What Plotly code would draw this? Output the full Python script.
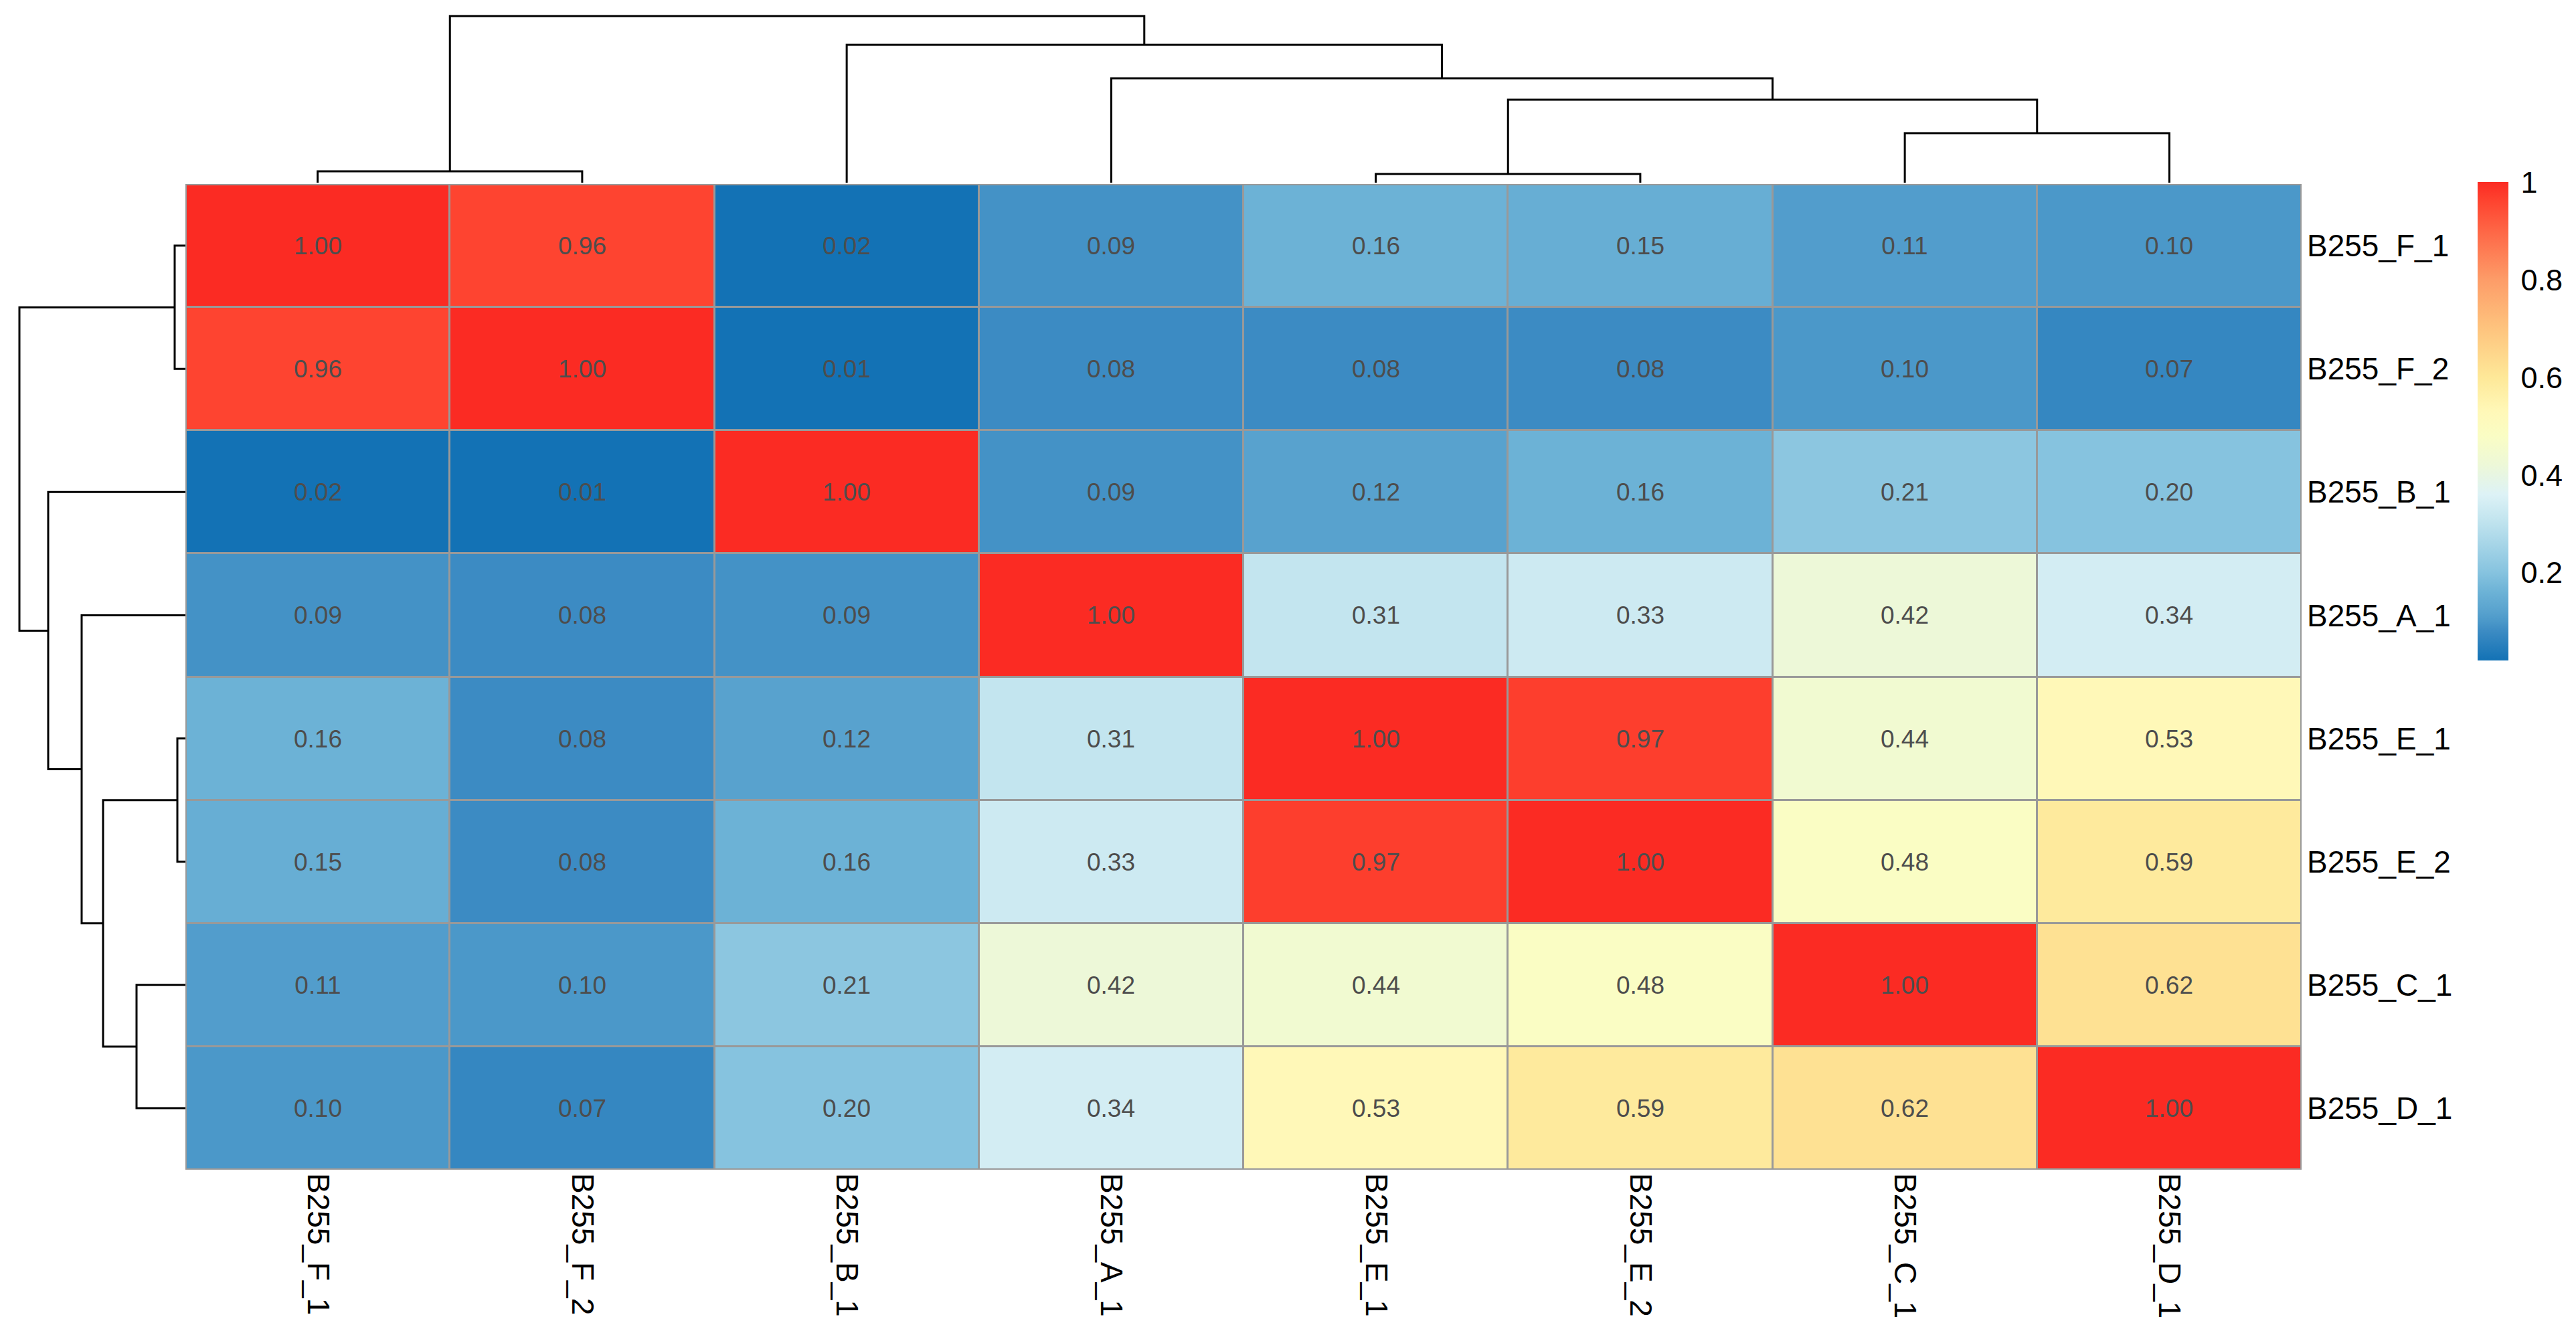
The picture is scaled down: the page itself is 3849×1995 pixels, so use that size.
import plotly.graph_objects as go

# ---------------- data ----------------
labels = ["B255_F_1", "B255_F_2", "B255_B_1", "B255_A_1",
          "B255_E_1", "B255_E_2", "B255_C_1", "B255_D_1"]

row_F_1 = [1.00, 0.96, 0.02, 0.09, 0.16, 0.15, 0.11, 0.10]
row_F_2 = [0.96, 1.00, 0.01, 0.08, 0.08, 0.08, 0.10, 0.07]
row_B_1 = [0.02, 0.01, 1.00, 0.09, 0.12, 0.16, 0.21, 0.20]
row_A_1 = [0.09, 0.08, 0.09, 1.00, 0.31, 0.33, 0.42, 0.34]
row_E_1 = [0.16, 0.08, 0.12, 0.31, 1.00, 0.97, 0.44, 0.53]
row_E_2 = [0.15, 0.08, 0.16, 0.33, 0.97, 1.00, 0.48, 0.59]
row_C_1 = [0.11, 0.10, 0.21, 0.42, 0.44, 0.48, 1.00, 0.62]
row_D_1 = [0.10, 0.07, 0.20, 0.34, 0.53, 0.59, 0.62, 1.00]

# linkage (leaf indices 0..7 in display order, new clusters 8..14)
merge_left = [0, 4, 6, 9, 3, 2, 8]
merge_right = [1, 5, 7, 10, 11, 12, 13]
merge_height = [0.17, 0.13, 0.74, 1.24, 1.56, 2.06, 2.49]

cbar_ticks = [0.2, 0.4, 0.6, 0.8, 1.0]
cbar_ticktext = ["0.2", "0.4", "0.6", "0.8", "1"]

z = [row_F_1, row_F_2, row_B_1, row_A_1, row_E_1, row_E_2, row_C_1, row_D_1]
n = len(labels)

# ---------------- geometry ----------------
OFF = 8  # default page body margin
W, H = 3849 - OFF, 1995 - OFF
hm_l, hm_r, hm_t, hm_b = 277, 3439, 275, 1748
FONT = "Liberation Sans, Arial, sans-serif"
ZMIN, ZMAX = 0.02, 1.0


def px_x(p):
    return (p - OFF) / W


def px_y(p):
    return 1 - (p - OFF) / H


# colour scale (value -> colour), normalised to ZMIN..ZMAX
stops = [
    (0.02, "#1372B5"), (0.08, "#3C8BC3"), (0.10, "#4B98C9"), (0.12, "#58A2CE"),
    (0.16, "#6CB2D6"), (0.20, "#86C3DF"), (0.31, "#C3E5EF"), (0.36, "#DDF2F6"),
    (0.42, "#EDF8D8"), (0.48, "#FAFDC4"), (0.53, "#FFF8B8"), (0.60, "#FEE898"),
    (0.70, "#FEC47E"), (0.80, "#FD9C68"), (0.90, "#FE6646"), (0.96, "#FE4430"),
    (1.00, "#FB2B23"),
]
colorscale = [[(v - ZMIN) / (ZMAX - ZMIN), c] for v, c in stops]


def dendro_segments(left, right, height, nleaves):
    pos = {i: float(i) for i in range(nleaves)}
    hgt = {i: 0.0 for i in range(nleaves)}
    a, b = [], []  # a = leaf-axis coords, b = height coords
    for k, (l, r, h) in enumerate(zip(left, right, height)):
        a += [pos[l], pos[l], pos[r], pos[r], None]
        b += [hgt[l], h, h, hgt[r], None]
        cid = nleaves + k
        pos[cid] = (pos[l] + pos[r]) / 2
        hgt[cid] = h
    return a, b


da, db = dendro_segments(merge_left, merge_right, merge_height, n)
HR = 2.6  # dendrogram height range

fig = go.Figure()

fig.add_trace(go.Heatmap(
    z=z, x=list(range(n)), y=list(range(n)),
    zmin=ZMIN, zmax=ZMAX, colorscale=colorscale,
    xgap=3, ygap=3,
    texttemplate="%{z:.2f}",
    textfont=dict(family=FONT, size=37, color="#4D4D4D"),
    hoverinfo="skip",
    colorbar=dict(
        x=px_x(3702), xanchor="left", y=px_y(629.5), yanchor="middle",
        len=715, lenmode="pixels", thickness=46, thicknessmode="pixels",
        outlinewidth=0, xpad=0, ypad=0,
        tickvals=cbar_ticks, ticktext=cbar_ticktext,
        ticks="outside", ticklen=10, tickcolor="rgba(0,0,0,0)",
        tickfont=dict(family=FONT, size=45, color="#000000"),
    ),
    xaxis="x", yaxis="y",
))

# column dendrogram (top)
fig.add_trace(go.Scatter(
    x=da, y=db, mode="lines", line=dict(color="#000000", width=3),
    hoverinfo="skip", showlegend=False, xaxis="x2", yaxis="y2",
))
# row dendrogram (left)
fig.add_trace(go.Scatter(
    x=db, y=da, mode="lines", line=dict(color="#000000", width=3),
    hoverinfo="skip", showlegend=False, xaxis="x3", yaxis="y3",
))

hm_x_dom = [px_x(hm_l), px_x(hm_r)]
hm_y_dom = [px_y(hm_b), px_y(hm_t)]
tree_px = 249 / 2.49 * HR  # pixels spanned by the height range

fig.update_layout(
    width=W, height=H,
    margin=dict(l=0, r=0, t=0, b=0),
    paper_bgcolor="white", plot_bgcolor="white",
    showlegend=False,
    xaxis=dict(domain=hm_x_dom, range=[-0.5, n - 0.5], tickvals=list(range(n)),
               ticktext=labels, tickangle=90, ticks="", showgrid=False,
               zeroline=False, showline=False, ticklabelstandoff=4,
               tickfont=dict(family=FONT, size=46, color="#000000")),
    yaxis=dict(domain=hm_y_dom, range=[n - 0.5, -0.5], tickvals=list(range(n)),
               ticktext=labels, side="right", ticks="", showgrid=False,
               zeroline=False, showline=False, ticklabelstandoff=7,
               tickfont=dict(family=FONT, size=46, color="#000000")),
    xaxis2=dict(domain=hm_x_dom, range=[-0.5, n - 0.5], visible=False),
    yaxis2=dict(domain=[px_y(273), px_y(273 - tree_px)], range=[0, HR],
                visible=False, anchor="x2"),
    xaxis3=dict(domain=[px_x(278 - tree_px), px_x(278)], range=[HR, 0],
                visible=False, anchor="y3"),
    yaxis3=dict(domain=hm_y_dom, range=[n - 0.5, -0.5], visible=False,
                anchor="x3"),
    shapes=[
        dict(type="rect", xref="x", yref="y", x0=-0.5, x1=n - 0.5,
             y0=-0.5, y1=n - 0.5, fillcolor="#999999",
             line=dict(width=0), layer="below"),
        dict(type="rect", xref="x", yref="y", x0=-0.5, x1=n - 0.5,
             y0=-0.5, y1=n - 0.5, fillcolor="rgba(0,0,0,0)",
             line=dict(color="#999999", width=4), layer="above"),
    ],
)

fig.write_html("out.html")
